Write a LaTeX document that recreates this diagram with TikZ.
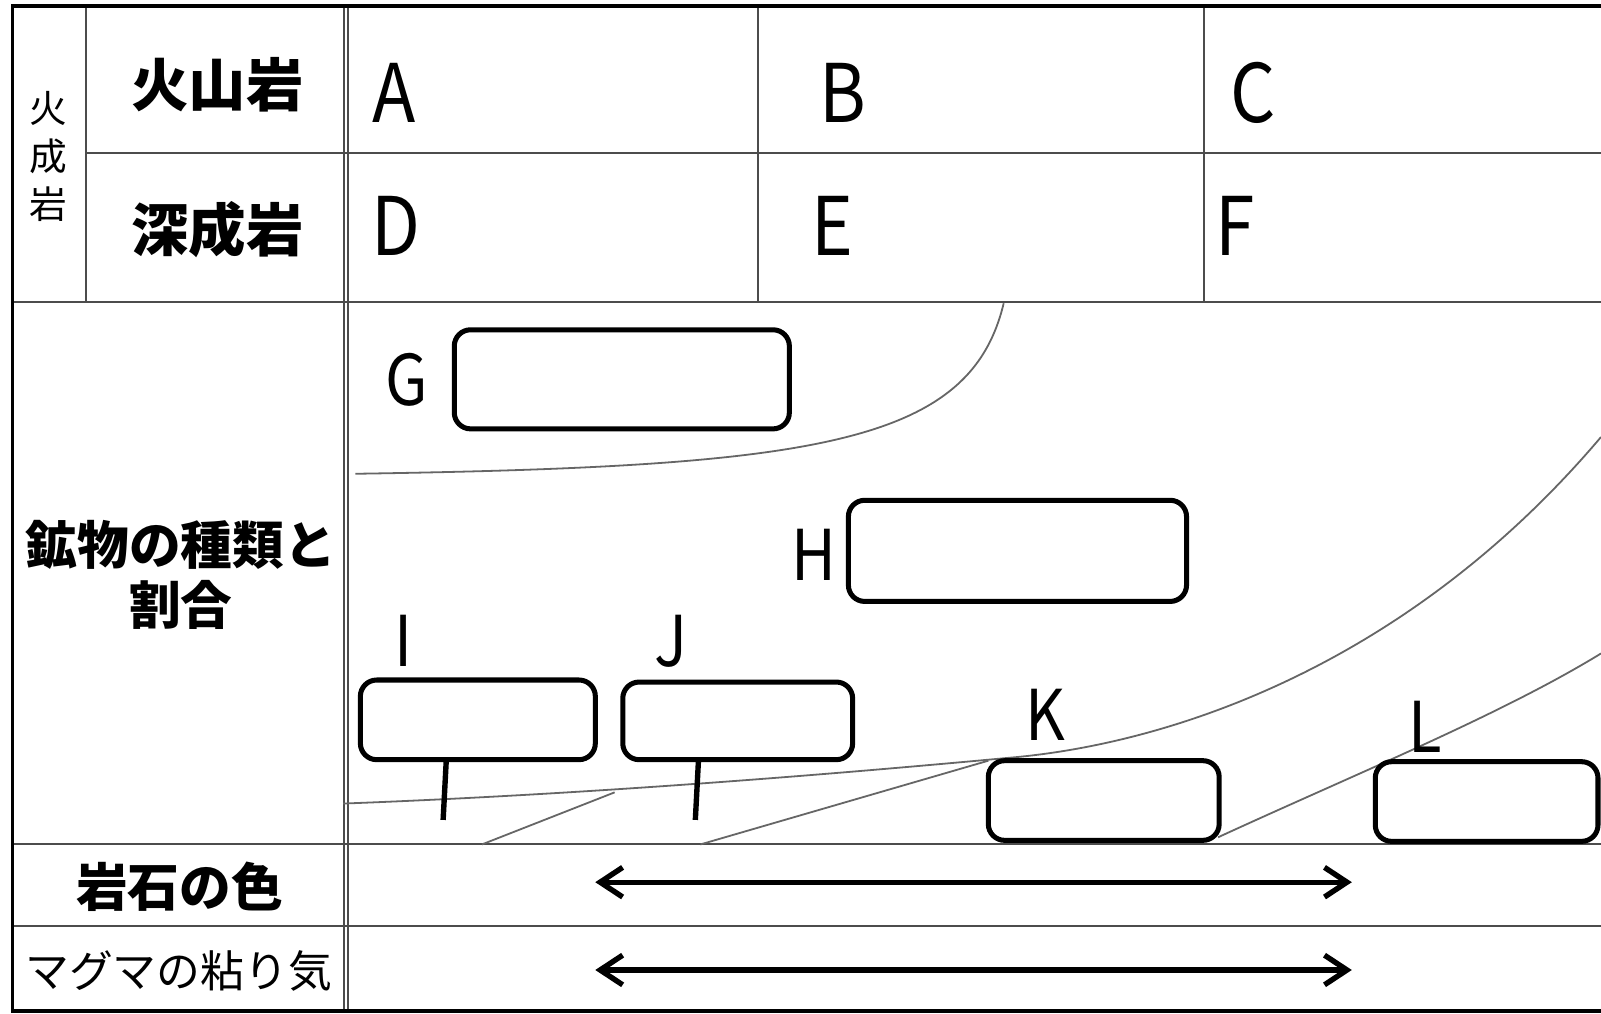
\documentclass[tikz,border=0pt]{standalone}
\usepackage{fontspec}
\setmainfont{Noto Sans CJK JP}
\usetikzlibrary{arrows.meta}
\newcommand{\narrow}[1]{\scalebox{0.88}[1]{#1}}
\begin{document}
\begin{tikzpicture}[x=0.01cm,y=-0.01cm,
  frame/.style={line width=1pt,black},
  rule/.style={line width=0.55pt,black!70},
  blank/.style={draw=black,line width=1.4pt,rounded corners=1.6mm,inner sep=0pt},
  bound/.style={line width=0.5pt,black!60},
  stem/.style={line width=1.5pt,black},
  cell/.style={inner sep=0pt,font=\fontsize{22.5}{22.5}\selectfont},
  tag/.style={inner sep=0pt,font=\fontsize{19.5}{19.5}\selectfont},
  head/.style={inner sep=0pt,font=\bfseries\fontsize{16}{16}\selectfont},
  side/.style={inner sep=0pt,font=\fontsize{10.5}{13.4}\selectfont,align=center},
  row/.style={inner sep=0pt,font=\bfseries\fontsize{14.4}{16.8}\selectfont,align=center},
  rowr/.style={inner sep=0pt,font=\fontsize{12.2}{14}\selectfont},
  scalearrow/.style={line width=1.5pt,{Straight Barb[length=2.2mm,width=2.9mm]}-{Straight Barb[length=2.2mm,width=2.9mm]}},
]
\useasboundingbox (0,0) rectangle (1568,993);
\fill[white] (0,0) rectangle (1568,993);

% table rules
\draw[rule] (84,5.6) -- (84,296);
\draw[rule] (742,5.6) -- (742,296);
\draw[rule] (1179,5.6) -- (1179,296);
\draw[rule] (84,150) -- (1568,150);
\draw[rule] (12,296) -- (1568,296);
\draw[rule] (12,827) -- (1568,827);
\draw[rule] (12,907) -- (1568,907);
\draw[rule] (337,5.6) -- (337,990);
\draw[rule] (341,5.6) -- (341,990);
\draw[frame] (1568,5.6) -- (12.4,5.6) -- (12.4,990) -- (1568,990);

% header texts
\node[side] (igneous) at (47,153) {火\\成\\岩};
\node[head] (volc) at (213,83) {火山岩};
\node[head] (plut) at (213,225) {深成岩};
\node[row] (mineral) at (177,563) {鉱物の種類と\\割合};
\node[row] (color) at (176,868) {岩石の色};
\node[rowr] (visc) at (175,951) {マグマの粘り気};

% cell letters
\node[cell] (A) at (386,91) {\narrow{A}};
\node[cell] (B) at (825,91) {\narrow{B}};
\node[cell] (C) at (1227,91) {\narrow{C}};
\node[cell] (D) at (388,221) {\narrow{D}};
\node[cell] (E) at (815,221) {\narrow{E}};
\node[cell] (F) at (1210,221) {\narrow{F}};

% boundary curves
\draw[bound] (983,297) .. controls (950,435) and (800,457) .. (348,464);
\draw[bound] (336,787) .. controls (600,777) and (850,755) .. (990,742)
             .. controls (1150,728) and (1380,650) .. (1568,428);
\draw[bound] (472,827) -- (602,776);
\draw[bound] (686,827) -- (968,745);
\draw[bound] (1193,820) .. controls (1330,757) and (1470,700) .. (1568,640);

% mineral boxes
\node[blank,minimum width=3.28cm,minimum height=0.97cm] (bG) at (609,371.5) {};
\node[blank,minimum width=3.31cm,minimum height=0.99cm] (bH) at (996.5,539.5) {};
\node[blank,minimum width=2.30cm,minimum height=0.78cm] (bI) at (468,705) {};
\node[blank,minimum width=2.25cm,minimum height=0.76cm] (bJ) at (722.5,706) {};
\node[blank,minimum width=2.26cm,minimum height=0.78cm] (bK) at (1081,784) {};
\node[blank,minimum width=2.18cm,minimum height=0.78cm] (bL) at (1456,785) {};

% box letters
\node[tag] (G) at (398,372) {\narrow{G}};
\node[tag] (H) at (797,543) {\narrow{H}};
\node[tag] (I) at (395,628) {\narrow{I}};
\node[tag] (J) at (657,628) {\narrow{J}};
\node[tag] (K) at (1024,700) {\narrow{K}};
\node[tag] (L) at (1396,712) {\narrow{L}};

% stems
\coordinate (i1) at (437,746); \coordinate (i2) at (434,803);
\coordinate (j1) at (684,746); \coordinate (j2) at (681,803);
\draw[stem] (i1) -- (i2);
\draw[stem] (j1) -- (j2);

% arrows
\coordinate (c1) at (583,864); \coordinate (c2) at (1324,864);
\coordinate (v1) at (583,950); \coordinate (v2) at (1324,950);
\draw[scalearrow] (c1) -- (c2);
\draw[scalearrow] (v1) -- (v2);
\end{tikzpicture}
\end{document}
